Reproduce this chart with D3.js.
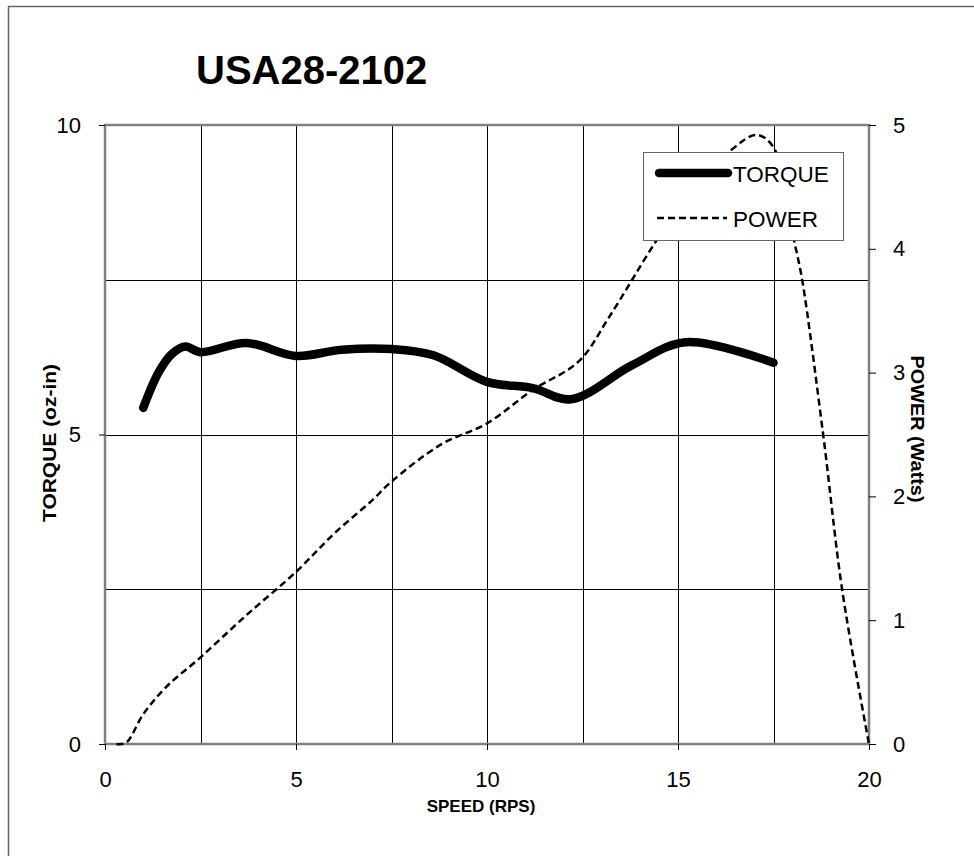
<!DOCTYPE html>
<html>
<head>
<meta charset="utf-8">
<script src="https://cdn.jsdelivr.net/npm/d3@7"></script>
<style>
    body { margin: 0; background: #fff; }
    text { font-family: "Liberation Sans", Arial, sans-serif; fill: #000; }
</style>
</head>
<body>
<svg id="chart" width="974" height="856"></svg>
<script>
// torque curve (oz-in)
var torqueSpeed = [1.0, 1.4, 1.75, 2.1, 2.5, 3.7, 5.0, 6.2, 7.5, 8.6, 10.0, 11.2, 12.2, 13.8, 15.2, 17.5];
var torqueVal = [5.43, 6.0, 6.3, 6.42, 6.33, 6.48, 6.27, 6.37, 6.38, 6.28, 5.85, 5.75, 5.57, 6.12, 6.49, 6.16];

// power curve (Watts)
var powerSpeed = [0.3, 0.55, 1.0, 1.6, 2.5, 3.7, 5.0, 6.0, 7.0, 7.5, 8.8, 10.0, 11.2, 12.4, 13.2, 14.4, 15.4, 16.4, 17.05, 17.5, 18.05, 18.25, 18.8, 19.3, 20.0];
var powerVal = [0, 0.01, 0.24, 0.46, 0.70, 1.04, 1.39, 1.70, 1.97, 2.12, 2.42, 2.59, 2.86, 3.09, 3.45, 4.05, 4.5, 4.80, 4.92, 4.82, 4.05, 3.75, 2.5, 1.24, 0];

var speedTicks = [0, 5, 10, 15, 20];
var torqueTicks = [0, 5, 10];
var powerTicks = [0, 1, 2, 3, 4, 5];
var gridSpeed = [2.5, 5, 7.5, 10, 12.5, 15, 17.5];
var gridTorque = [2.5, 5, 7.5];

var svg = d3.select("#chart");
var plotL = 105, plotR = 869, plotT = 125, plotB = 744;

var x = d3.scaleLinear().domain([0, 20]).range([plotL, plotR]);
var yT = d3.scaleLinear().domain([0, 10]).range([plotB, plotT]);
var yP = d3.scaleLinear().domain([0, 5]).range([plotB, plotT]);

// outer chart frame (runs off the picture at right/bottom)
svg.append("rect")
    .attr("x", 8.5).attr("y", 6.5)
    .attr("width", 1000).attr("height", 900)
    .attr("fill", "#fff")
    .attr("stroke", "#666")
    .attr("stroke-width", 1.5);

// grid
svg.append("g").selectAll("line")
    .data(gridSpeed)
    .enter().append("line")
    .attr("x1", function(d) { return Math.round(x(d)) + 0.5; })
    .attr("x2", function(d) { return Math.round(x(d)) + 0.5; })
    .attr("y1", plotT).attr("y2", plotB)
    .attr("stroke", "#000");

svg.append("g").selectAll("line")
    .data(gridTorque)
    .enter().append("line")
    .attr("y1", function(d) { return Math.round(yT(d)) + 0.5; })
    .attr("y2", function(d) { return Math.round(yT(d)) + 0.5; })
    .attr("x1", plotL).attr("x2", plotR)
    .attr("stroke", "#000");

// plot frame
svg.append("rect")
    .attr("x", plotL).attr("y", plotT)
    .attr("width", plotR - plotL).attr("height", plotB - plotT)
    .attr("fill", "none")
    .attr("stroke", "#808080")
    .attr("stroke-width", 2.5);

// axes
var xAxis = d3.axisBottom(x).tickValues(speedTicks).tickSize(6).tickPadding(21);
var yAxisL = d3.axisLeft(yT).tickValues(torqueTicks).tickSize(6).tickPadding(18);
var yAxisR = d3.axisRight(yP).tickValues(powerTicks).tickSize(7).tickPadding(17)
    .tickFormat(d3.format("d"));

function styleAxis(g) {
    g.select(".domain").remove();
    g.selectAll(".tick line").attr("stroke", "#000");
    g.selectAll(".tick text")
        .attr("font-size", 22)
        .attr("font-family", "Liberation Sans, Arial, sans-serif")
        .attr("fill", "#000");
}

svg.append("g").attr("transform", "translate(0," + plotB + ")").call(xAxis).call(styleAxis);
svg.append("g").attr("transform", "translate(" + plotL + ",0)").call(yAxisL).call(styleAxis);
svg.append("g").attr("transform", "translate(" + plotR + ",0)").call(yAxisR).call(styleAxis);

// curves
var powerLine = d3.line()
    .x(function(d, i) { return x(powerSpeed[i]); })
    .y(function(d) { return yP(d); })
    .curve(d3.curveCatmullRom.alpha(0.5));

var torqueLine = d3.line()
    .x(function(d, i) { return x(torqueSpeed[i]); })
    .y(function(d) { return yT(d); })
    .curve(d3.curveCatmullRom.alpha(0.5));

svg.append("path")
    .datum(powerVal)
    .attr("d", powerLine)
    .attr("fill", "none")
    .attr("stroke", "#000")
    .attr("stroke-width", 2.5)
    .attr("stroke-dasharray", "7,4");

svg.append("path")
    .datum(torqueVal)
    .attr("d", torqueLine)
    .attr("fill", "none")
    .attr("stroke", "#000")
    .attr("stroke-width", 8.5)
    .attr("stroke-linecap", "round")
    .attr("stroke-linejoin", "round");

// legend
var legend = svg.append("g").attr("transform", "translate(643,152)");
legend.append("rect")
    .attr("x", 0.5).attr("y", 0.5)
    .attr("width", 200).attr("height", 88)
    .attr("fill", "#fff")
    .attr("stroke", "#666");
legend.append("line")
    .attr("x1", 16).attr("x2", 85).attr("y1", 21).attr("y2", 21)
    .attr("stroke", "#000").attr("stroke-width", 8.5)
    .attr("stroke-linecap", "round");
legend.append("text")
    .attr("x", 90).attr("y", 30)
    .attr("font-size", 22.5)
    .text("TORQUE");
legend.append("line")
    .attr("x1", 14).attr("x2", 84).attr("y1", 66).attr("y2", 66)
    .attr("stroke", "#000").attr("stroke-width", 2.5)
    .attr("stroke-dasharray", "7,4");
legend.append("text")
    .attr("x", 90).attr("y", 75)
    .attr("font-size", 22.5)
    .text("POWER");

// titles
svg.append("text")
    .attr("x", 196).attr("y", 84)
    .attr("font-size", 40)
    .attr("font-weight", "bold")
    .text("USA28-2102");

svg.append("text")
    .attr("x", 481).attr("y", 812)
    .attr("text-anchor", "middle")
    .attr("font-size", 17)
    .attr("font-weight", "bold")
    .text("SPEED (RPS)");

svg.append("text")
    .attr("transform", "translate(56,443) rotate(-90)")
    .attr("text-anchor", "middle")
    .attr("font-size", 18)
    .attr("font-weight", "bold")
    .attr("textLength", 158)
    .attr("lengthAdjust", "spacingAndGlyphs")
    .text("TORQUE (oz-in)");

svg.append("text")
    .attr("transform", "translate(911,429) rotate(90)")
    .attr("text-anchor", "middle")
    .attr("font-size", 18)
    .attr("font-weight", "bold")
    .attr("textLength", 147)
    .attr("lengthAdjust", "spacingAndGlyphs")
    .text("POWER (Watts)");
</script>
</body>
</html>
